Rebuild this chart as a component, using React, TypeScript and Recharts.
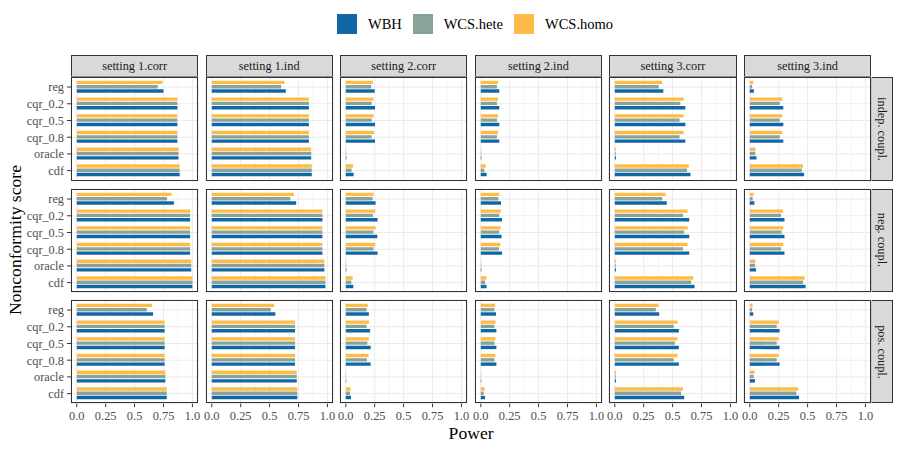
import React from 'react';
import { BarChart, Bar, XAxis, YAxis, CartesianGrid } from 'recharts';

const scores = ['reg', 'cqr_0.2', 'cqr_0.5', 'cqr_0.8', 'oracle', 'cdf'];
const settings = ['setting 1.corr', 'setting 1.ind', 'setting 2.corr', 'setting 2.ind', 'setting 3.corr', 'setting 3.ind'];
const couplings = ['indep. coupl.', 'neg. coupl.', 'pos. coupl.'];
const methods = ['WBH', 'WCS.hete', 'WCS.homo'];
const methodColors = ['#0F67A6', '#8AA398', '#FDBC48'];
const xTicks = [0, 0.25, 0.5, 0.75, 1];
const xTickLabels = ['0.0', '0.25', '0.5', '0.75', '1.0'];
const xMinorTicks = [0.125, 0.375, 0.625, 0.875];

// values per setting (rows), per score (columns: reg, cqr_0.2, cqr_0.5, cqr_0.8, oracle, cdf)
const WBH_indep = [
  [0.75, 0.87, 0.87, 0.87, 0.88, 0.89],
  [0.64, 0.84, 0.84, 0.84, 0.86, 0.865],
  [0.25, 0.253, 0.253, 0.253, 0.005, 0.068],
  [0.16, 0.16, 0.16, 0.16, 0.005, 0.05],
  [0.42, 0.61, 0.61, 0.61, 0.01, 0.655],
  [0.035, 0.29, 0.29, 0.29, 0.058, 0.47],
];
const hete_indep = [
  [0.70, 0.87, 0.87, 0.87, 0.88, 0.89],
  [0.60, 0.84, 0.84, 0.84, 0.86, 0.865],
  [0.22, 0.224, 0.225, 0.224, 0.004, 0.05],
  [0.14, 0.14, 0.14, 0.14, 0.004, 0.03],
  [0.38, 0.567, 0.56, 0.56, 0.008, 0.625],
  [0.02, 0.26, 0.26, 0.26, 0.048, 0.45],
];
const homo_indep = [
  [0.74, 0.87, 0.87, 0.87, 0.88, 0.89],
  [0.63, 0.84, 0.84, 0.84, 0.86, 0.865],
  [0.235, 0.238, 0.24, 0.243, 0.004, 0.062],
  [0.15, 0.15, 0.15, 0.15, 0.004, 0.043],
  [0.41, 0.595, 0.595, 0.595, 0.01, 0.64],
  [0.03, 0.28, 0.28, 0.28, 0.05, 0.46],
];
const WBH_neg = [
  [0.84, 0.98, 0.98, 0.98, 0.99, 1.0],
  [0.73, 0.957, 0.957, 0.957, 0.974, 0.983],
  [0.258, 0.275, 0.273, 0.275, 0.005, 0.065],
  [0.175, 0.184, 0.18, 0.184, 0.005, 0.05],
  [0.45, 0.644, 0.644, 0.644, 0.01, 0.69],
  [0.04, 0.3, 0.3, 0.3, 0.054, 0.483],
];
const hete_neg = [
  [0.78, 0.98, 0.98, 0.98, 0.99, 1.0],
  [0.68, 0.957, 0.957, 0.957, 0.974, 0.983],
  [0.232, 0.235, 0.238, 0.24, 0.004, 0.048],
  [0.152, 0.16, 0.16, 0.157, 0.004, 0.037],
  [0.41, 0.59, 0.6, 0.59, 0.008, 0.66],
  [0.025, 0.27, 0.275, 0.27, 0.045, 0.46],
];
const homo_neg = [
  [0.82, 0.98, 0.98, 0.98, 0.99, 1.0],
  [0.71, 0.957, 0.957, 0.957, 0.974, 0.983],
  [0.24, 0.255, 0.258, 0.255, 0.004, 0.06],
  [0.16, 0.172, 0.172, 0.17, 0.004, 0.048],
  [0.44, 0.63, 0.63, 0.63, 0.01, 0.68],
  [0.033, 0.287, 0.29, 0.29, 0.048, 0.475],
];
const WBH_pos = [
  [0.66, 0.76, 0.76, 0.76, 0.766, 0.778],
  [0.55, 0.72, 0.72, 0.72, 0.735, 0.74],
  [0.2, 0.21, 0.215, 0.215, 0.004, 0.045],
  [0.132, 0.135, 0.135, 0.135, 0.004, 0.037],
  [0.384, 0.554, 0.554, 0.554, 0.01, 0.6],
  [0.03, 0.258, 0.258, 0.258, 0.045, 0.426],
];
const hete_pos = [
  [0.605, 0.76, 0.76, 0.76, 0.766, 0.778],
  [0.51, 0.72, 0.72, 0.72, 0.735, 0.74],
  [0.18, 0.18, 0.186, 0.183, 0.003, 0.036],
  [0.118, 0.118, 0.118, 0.118, 0.003, 0.025],
  [0.355, 0.51, 0.52, 0.51, 0.008, 0.574],
  [0.02, 0.233, 0.233, 0.233, 0.034, 0.403],
];
const homo_pos = [
  [0.65, 0.76, 0.76, 0.76, 0.766, 0.778],
  [0.54, 0.72, 0.72, 0.72, 0.735, 0.74],
  [0.19, 0.2, 0.2, 0.197, 0.003, 0.042],
  [0.124, 0.127, 0.127, 0.127, 0.003, 0.034],
  [0.378, 0.543, 0.543, 0.543, 0.01, 0.589],
  [0.025, 0.25, 0.25, 0.25, 0.042, 0.417],
];

const WBH_all = [WBH_indep, WBH_neg, WBH_pos];
const hete_all = [hete_indep, hete_neg, hete_pos];
const homo_all = [homo_indep, homo_neg, homo_pos];

// layout
const PANEL_LEFT = 71;
const PW = 127.2;
const GAP_X = 7.4;
const PANEL_TOP = 77.4;
const PH = 103.7;
const GAP_Y = 7.5;
const STRIP_H = 22;
const YAXIS_W = 71;
const XAXIS_H = 26;
const FONT = '"Liberation Serif", "DejaVu Serif", serif';
const BORDER = '#333333';

const colLeft = (c: number) => PANEL_LEFT + c * (PW + GAP_X);
const rowTop = (r: number) => PANEL_TOP + r * (PH + GAP_Y);

function panelData(r: number, c: number) {
  return scores.map((s, i) => ({
    score: s,
    WBH: WBH_all[r][c][i],
    hete: hete_all[r][c][i],
    homo: homo_all[r][c][i],
  }));
}

function Panel({ r, c }: { r: number; c: number }) {
  const showY = c === 0;
  const showX = r === 2;
  const yw = showY ? YAXIS_W : 0;
  const xh = showX ? XAXIS_H : 0;
  const w = PW + yw;
  const h = PH + xh;
  return (
    <div style={{ position: 'absolute', left: colLeft(c) - yw, top: rowTop(r), width: w, height: h }}>
      <BarChart
        width={w}
        height={h}
        data={panelData(r, c)}
        layout="vertical"
        margin={{ top: 0, right: 0, bottom: 0, left: 0 }}
        barSize={3.4}
        barGap={0.9}
      >
        <CartesianGrid xAxisId="minor" stroke="#EBEBEB" strokeWidth={0.5} horizontal={false} />
        <CartesianGrid stroke="#EBEBEB" strokeWidth={1} />
        <XAxis
          xAxisId="minor"
          type="number"
          domain={[-0.05, 1.05]}
          ticks={xMinorTicks}
          hide
          allowDataOverflow
        />
        <XAxis
          type="number"
          domain={[-0.05, 1.05]}
          ticks={xTicks}
          interval={0}
          hide={!showX}
          height={xh}
          allowDataOverflow
          axisLine={false}
          tickSize={3.5}
          tickMargin={4}
          tickLine={{ stroke: BORDER }}
          tick={{ fill: '#4D4D4D', fontSize: 12.4, fontFamily: FONT }}
          tickFormatter={(v: number) => xTickLabels[xTicks.indexOf(v)] ?? String(v)}
        />
        <YAxis
          type="category"
          dataKey="score"
          hide={!showY}
          width={yw}
          interval={0}
          padding={{ top: 1.7, bottom: 1.7 }}
          axisLine={false}
          tickSize={4}
          tickMargin={3}
          tickLine={{ stroke: BORDER }}
          tick={{ fill: '#4D4D4D', fontSize: 12.3, fontFamily: FONT }}
        />
        <Bar dataKey="homo" xAxisId={0} fill={methodColors[2]} isAnimationActive={false} />
        <Bar dataKey="hete" xAxisId={0} fill={methodColors[1]} isAnimationActive={false} />
        <Bar dataKey="WBH" xAxisId={0} fill={methodColors[0]} isAnimationActive={false} />
      </BarChart>
      <div
        style={{
          position: 'absolute',
          left: yw,
          top: 0,
          width: PW,
          height: PH,
          border: `1px solid ${BORDER}`,
          boxSizing: 'border-box',
          pointerEvents: 'none',
        }}
      />
    </div>
  );
}

export default function App() {
  const rows = [0, 1, 2];
  const cols = [0, 1, 2, 3, 4, 5];
  const legendLefts = [337, 412.7, 514];
  return (
    <div
      style={{
        position: 'absolute',
        left: 0,
        top: 0,
        width: 900,
        height: 450,
        background: '#fff',
        fontFamily: FONT,
        overflow: 'hidden',
      }}
    >
      <style>{`.recharts-surface { overflow: visible; } .recharts-text { font-family: ${FONT}; }`}</style>
      {/* legend */}
      {methods.map((m, i) => (
        <React.Fragment key={m}>
          <div
            style={{
              position: 'absolute',
              left: legendLefts[i],
              top: 14,
              width: 20,
              height: 20,
              background: methodColors[i],
            }}
          />
          <div
            style={{
              position: 'absolute',
              left: legendLefts[i] + 31,
              top: 14,
              height: 20,
              lineHeight: '20px',
              fontSize: 14.5,
              color: '#000',
              whiteSpace: 'nowrap',
            }}
          >
            {m}
          </div>
        </React.Fragment>
      ))}
      {/* top strips */}
      {settings.map((s, c) => (
        <div
          key={s}
          style={{
            position: 'absolute',
            left: colLeft(c),
            top: PANEL_TOP - STRIP_H,
            width: PW,
            height: STRIP_H,
            background: '#D9D9D9',
            border: `1px solid ${BORDER}`,
            boxSizing: 'border-box',
            textAlign: 'center',
            lineHeight: `${STRIP_H - 2}px`,
            fontSize: 12.3,
            color: '#1A1A1A',
            whiteSpace: 'nowrap',
          }}
        >
          {s}
        </div>
      ))}
      {/* right strips */}
      {couplings.map((cp, r) => (
        <div
          key={cp}
          style={{
            position: 'absolute',
            left: colLeft(5) + PW,
            top: rowTop(r),
            width: STRIP_H,
            height: PH,
            background: '#D9D9D9',
            border: `1px solid ${BORDER}`,
            boxSizing: 'border-box',
          }}
        >
          <div
            style={{
              position: 'absolute',
              left: STRIP_H / 2 - 1 - 60,
              top: PH / 2 - 1 - 10,
              width: 120,
              height: 20,
              lineHeight: '20px',
              textAlign: 'center',
              fontSize: 12.3,
              color: '#1A1A1A',
              transform: 'rotate(90deg)',
              whiteSpace: 'nowrap',
            }}
          >
            {cp}
          </div>
        </div>
      ))}
      {/* panels */}
      {rows.map((r) => cols.map((c) => <Panel key={`${r}-${c}`} r={r} c={c} />))}
      {/* axis titles */}
      <div
        style={{
          position: 'absolute',
          left: (colLeft(0) + colLeft(5) + PW) / 2 - 100,
          top: 424.5,
          width: 200,
          textAlign: 'center',
          fontSize: 17.6,
          lineHeight: '17.6px',
          color: '#000',
        }}
      >
        Power
      </div>
      <div
        style={{
          position: 'absolute',
          left: 14.5 - 150,
          top: (rowTop(0) + rowTop(2) + PH) / 2 - 10,
          width: 300,
          height: 20,
          lineHeight: '20px',
          textAlign: 'center',
          fontSize: 17.6,
          color: '#000',
          transform: 'rotate(-90deg)',
          whiteSpace: 'nowrap',
        }}
      >
        Nonconformity score
      </div>
    </div>
  );
}
